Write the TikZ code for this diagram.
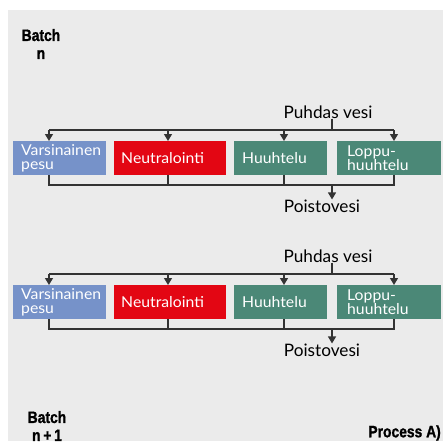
\documentclass[tikz,border=0pt]{standalone}
\usepackage{fontspec}
\setmainfont{Lato}
\newfontfamily\boxfont[FakeStretch=1.05]{Lato}
\newfontfamily\condbold[FakeStretch=0.84,FakeBold=1.2]{Liberation Sans Bold}
\usetikzlibrary{arrows.meta}
\definecolor{bgc}{HTML}{EBEBEB}
\definecolor{bluebox}{HTML}{7692C9}
\definecolor{redbox}{HTML}{E30613}
\definecolor{greenbox}{HTML}{4B8877}
\definecolor{linec}{HTML}{333333}
\tikzset{
  procbox/.style={anchor=north west, minimum height=34pt, inner xsep=8pt, inner ysep=0pt,
    align=left, text=white, font=\boxfont\fontsize{15}{14}\selectfont},
  flow/.style={draw=linec, line width=1.2pt},
  flowarrow/.style={flow, -{Triangle[width=8pt,length=7pt]}},
  waterlabel/.style={font=\fontsize{17.2}{18}\selectfont, text=black, inner sep=0pt},
  batchlabel/.style={font=\condbold\fontsize{16.5}{18}\selectfont, text=black, inner sep=0pt, align=center}
}
\begin{document}
\begin{tikzpicture}[x=1pt,y=-1pt]
\useasboundingbox (0,0) rectangle (443,441);
\fill[white] (0,0) rectangle (443,441);
\fill[bgc] (8,10) rectangle (443,441);

\node[batchlabel] (batchn) at (41,44) {Batch\\n};
\node[batchlabel] (batchn1) at (47,426) {Batch\\n\,+\,1};
\node[batchlabel, anchor=east] (proc) at (441,433) {Process A)};

\foreach \dy/\p in {0/a,144/b} {
  \node[procbox, fill=bluebox, minimum width=93pt, text width=77pt] (v\p) at (13,141+\dy) {Varsinainen\\pesu};
  \node[procbox, fill=redbox, minimum width=112pt, text width=98pt, inner xsep=6pt] (n\p) at (114,141+\dy) {Neutralointi};
  \node[procbox, fill=greenbox, minimum width=93pt, text width=77pt] (h\p) at (234,141+\dy) {Huuhtelu};
  \node[procbox, fill=greenbox, minimum width=104pt, text width=84pt, inner xsep=10pt] (l\p) at (337,141+\dy) {Loppu-\\huuhtelu};

  \node[waterlabel] (pv\p) at (328,112+\dy) {Puhdas vesi};
  \node[waterlabel] (po\p) at (322,206+\dy) {Poistovesi};

  \coordinate (ti\p) at (332,130+\dy);
  \coordinate (t1\p) at (49,130+\dy);
  \coordinate (t2\p) at (168,130+\dy);
  \coordinate (t3\p) at (284,130+\dy);
  \coordinate (t4\p) at (394,130+\dy);
  \coordinate (b1\p) at (49,185+\dy);
  \coordinate (b2\p) at (168,185+\dy);
  \coordinate (b3\p) at (284,185+\dy);
  \coordinate (b4\p) at (394,185+\dy);
  \coordinate (bo\p) at (332,185+\dy);

  \draw[flow] (pv\p.south -| ti\p) -- (ti\p);
  \draw[flow] (t1\p) -- (t4\p);
  \draw[flowarrow] (t1\p) -- (t1\p |- v\p.north);
  \draw[flowarrow] (t2\p) -- (t2\p |- n\p.north);
  \draw[flowarrow] (t3\p) -- (t3\p |- h\p.north);
  \draw[flowarrow] (t4\p) -- (t4\p |- l\p.north);

  \draw[flow] (b1\p |- v\p.south) -- (b1\p) -- (b4\p) -- (b4\p |- l\p.south);
  \draw[flow] (b2\p |- n\p.south) -- (b2\p);
  \draw[flow] (b3\p |- h\p.south) -- (b3\p);
  \draw[flowarrow] (bo\p) -- (bo\p |- po\p.north);
}
\end{tikzpicture}
\end{document}
